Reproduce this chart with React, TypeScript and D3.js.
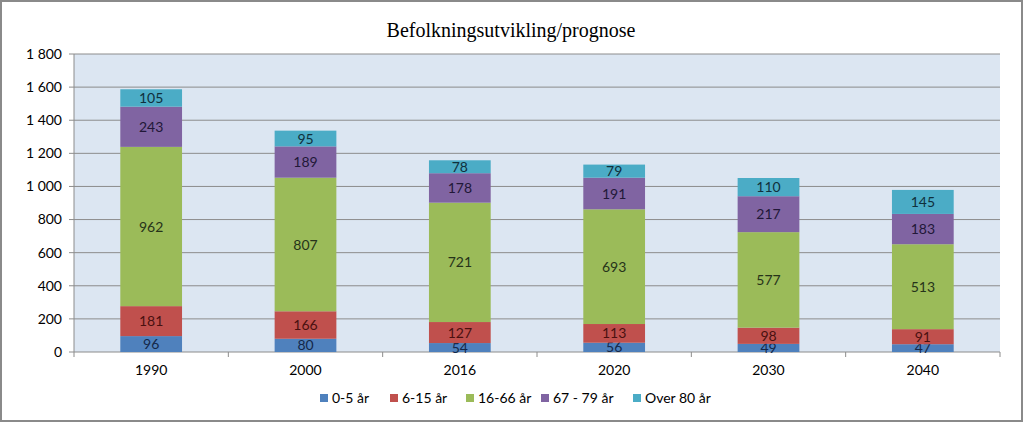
import React from "react";
import * as d3 from "d3";

const years = ["1990", "2000", "2016", "2020", "2030", "2040"];
const seriesNames = ["0-5 år", "6-15 år", "16-66 år", "67 - 79 år", "Over 80 år"];
const age0to5 = [96, 80, 54, 56, 49, 47];
const age6to15 = [181, 166, 127, 113, 98, 91];
const age16to66 = [962, 807, 721, 693, 577, 513];
const age67to79 = [243, 189, 178, 191, 217, 183];
const age80plus = [105, 95, 78, 79, 110, 145];
const yTicks = [0, 200, 400, 600, 800, 1000, 1200, 1400, 1600, 1800];
const title = "Befolkningsutvikling/prognose";

const colors = ["#4f81bd", "#c0504d", "#9bbb59", "#8064a2", "#4bacc6"];
const textColors = ["#14284a", "#4a1010", "#26331a", "#221838", "#10303c"];

const W = 1023;
const H = 422;
const M = { left: 74, right: 1000, top: 54, bottom: 352 };
const FONT = "Lato, 'Noto Sans', sans-serif";

export default function App() {
  const series = [age0to5, age6to15, age16to66, age67to79, age80plus];
  const table = years.map((y, i) => {
    const row: Record<string, number | string> = { year: y };
    seriesNames.forEach((n, k) => (row[n] = series[k][i]));
    return row;
  });
  const stacked = d3.stack<any>().keys(seriesNames)(table);

  const x = d3.scaleBand().domain(years).range([M.left, M.right]).paddingInner(0).paddingOuter(0);
  const y = d3.scaleLinear().domain([0, 1800]).range([M.bottom, M.top]);
  const bw = x.bandwidth() * 0.4;
  const fmt = (v: number) => d3.format(",")(v).replace(/,/g, " ");

  const legendX = [320, 390, 466, 541, 633];

  return (
    <svg width={W} height={H} style={{ position: "absolute", left: 0, top: 0, background: "#fff" }} fontFamily={FONT}>
      <rect x={1} y={1} width={W - 2} height={H - 2} fill="#fff" stroke="#8a8a8a" strokeWidth={2} />
      <text x={511} y={37} textAnchor="middle" fontFamily="'Liberation Serif', 'Times New Roman', serif" fontSize={20} fill="#000">
        {title}
      </text>
      <rect x={M.left} y={M.top} width={M.right - M.left} height={M.bottom - M.top} fill="#dce6f2" />
      {yTicks.map((t) => (
        <g key={t}>
          {t > 0 && <line x1={M.left} x2={M.right} y1={y(t)} y2={y(t)} stroke="#8c8c8c" strokeWidth={1} />}
          <line x1={M.left - 5} x2={M.left} y1={y(t)} y2={y(t)} stroke="#8c8c8c" />
          <text x={62} y={y(t)} dy="0.35em" textAnchor="end" fontSize={14} fill="#000">
            {fmt(t)}
          </text>
        </g>
      ))}
      <line x1={M.left} x2={M.left} y1={M.top} y2={M.bottom} stroke="#8c8c8c" />
      <line x1={M.left} x2={M.right} y1={M.bottom} y2={M.bottom} stroke="#8c8c8c" />
      {years.map((yr) => (
        <line key={"t" + yr} x1={x(yr)!} x2={x(yr)!} y1={M.bottom} y2={M.bottom + 5} stroke="#8c8c8c" />
      ))}
      <line x1={M.right} x2={M.right} y1={M.bottom} y2={M.bottom + 5} stroke="#8c8c8c" />
      {stacked.map((s, k) => (
        <g key={s.key}>
          {s.map((d, i) => {
            const cx = x(years[i])! + x.bandwidth() / 2;
            const y0 = y(d[0]);
            const y1 = y(d[1]);
            return (
              <g key={i}>
                <rect x={cx - bw / 2} y={y1} width={bw} height={y0 - y1} fill={colors[k]} />
                <text x={cx} y={(y0 + y1) / 2} dy="0.36em" textAnchor="middle" fontSize={14} fill={textColors[k]}>
                  {series[k][i]}
                </text>
              </g>
            );
          })}
        </g>
      ))}
      {years.map((yr) => (
        <text key={"l" + yr} x={x(yr)! + x.bandwidth() / 2} y={375} textAnchor="middle" fontSize={14} fill="#000">
          {yr}
        </text>
      ))}
      {seriesNames.map((n, k) => (
        <g key={"lg" + n}>
          <rect x={legendX[k]} y={394} width={8} height={8} fill={colors[k]} />
          <text x={legendX[k] + 12} y={398} dy="0.36em" fontSize={14} fill="#000">
            {n}
          </text>
        </g>
      ))}
    </svg>
  );
}
